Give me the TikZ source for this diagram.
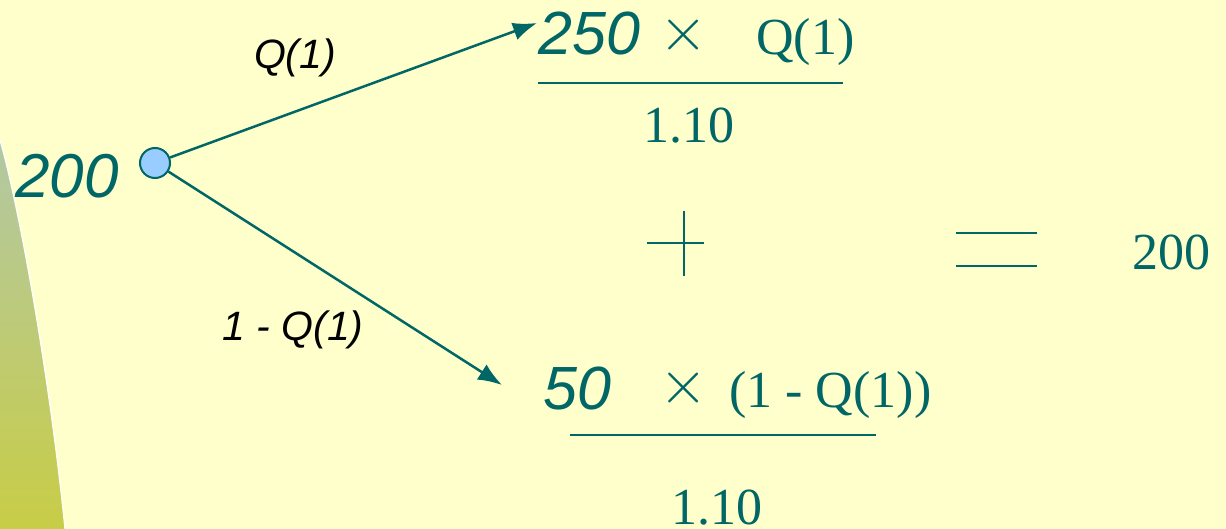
\documentclass[tikz,border=0pt]{standalone}
\usepackage{fontspec}
\usepackage{graphicx}
\setmainfont{Liberation Serif}
\newfontfamily\arial{Liberation Sans}
\usetikzlibrary{arrows.meta}
\definecolor{bg}{RGB}{255,255,204}
\definecolor{teal0}{RGB}{0,102,102}
\definecolor{nodeblue}{RGB}{153,204,255}
\definecolor{shtop}{RGB}{178,200,165}
\definecolor{shbot}{RGB}{200,205,70}
\newcommand{\bigtimes}{\scalebox{6.2}{$\times$}}
\tikzset{
  sansit/.style={font=\arial\itshape\fontsize{#1}{#1}\selectfont, text=teal0, inner sep=0pt},
  lbl/.style={font=\arial\itshape\fontsize{41}{41}\selectfont, text=black, inner sep=0pt},
  serif/.style={font=\fontsize{#1}{#1}\selectfont, text=teal0, inner sep=0pt},
  timesop/.style={text=teal0, inner sep=0pt},
  branch/.style={draw=teal0, line width=2.5pt, -{Latex[length=24pt,width=18pt]}},
  rule/.style={draw=teal0, line width=2pt},
  thin/.style={draw=teal0, line width=1.8pt},
}
\begin{document}
\begin{tikzpicture}[x=1pt,y=-1pt]
\useasboundingbox (0,0) rectangle (1226,529);
\fill[bg] (0,0) rectangle (1226,529);
% left decorative shape
\shade[top color=shtop, bottom color=shbot, shading angle=0]
  (0,140) .. controls (20,210) and (50,380) .. (65,529) -- (0,529) -- cycle;
\draw[white, line width=1.2pt] (0,140) .. controls (20,210) and (50,380) .. (65,529);

% root
\node[sansit=62, anchor=base west] (v200) at (15,198) {200};
\node[circle, draw=teal0, fill=nodeblue, line width=2pt, minimum size=30pt, inner sep=0pt] (root) at (155,163) {};
\coordinate (up) at (537,23);
\coordinate (dn) at (502,385);
\draw[branch] (root) -- (up);
\draw[branch] (root) -- (dn);
\node[lbl] (q1) at (295,58) {Q(1)};
\node[lbl] (q2) at (293,330) {1 - Q(1)};

% upper fraction
\node[sansit=61, anchor=base west] (n250) at (538,55) {250};
\node[timesop, anchor=center] (x1) at (684,35) {\bigtimes};
\node[serif=52, anchor=base west] (qq1) at (756,55) {Q(1)};
\draw[rule] (538,83) -- (843,83);
\node[serif=52, anchor=base west] (d1) at (643,143) {1.10};

% plus and equals
\draw[thin] (647,243) -- (704,243);
\draw[thin] (684,211) -- (684,276);
\draw[thin] (956,233) -- (1037,233);
\draw[thin] (956,266) -- (1037,266);
\node[serif=52, anchor=base west] (r200) at (1132,270) {200};

% lower fraction
\node[timesop, anchor=center] (x2) at (684,388) {\bigtimes};
\node[sansit=61, anchor=base west] (n50) at (543,409) {50};
\node[serif=52, anchor=base west] (qq2) at (729,407) {(1 - Q(1))};
\draw[rule] (570,435) -- (876,435);
\node[serif=52, anchor=base west] (d2) at (671,524) {1.10};
\end{tikzpicture}
\end{document}
